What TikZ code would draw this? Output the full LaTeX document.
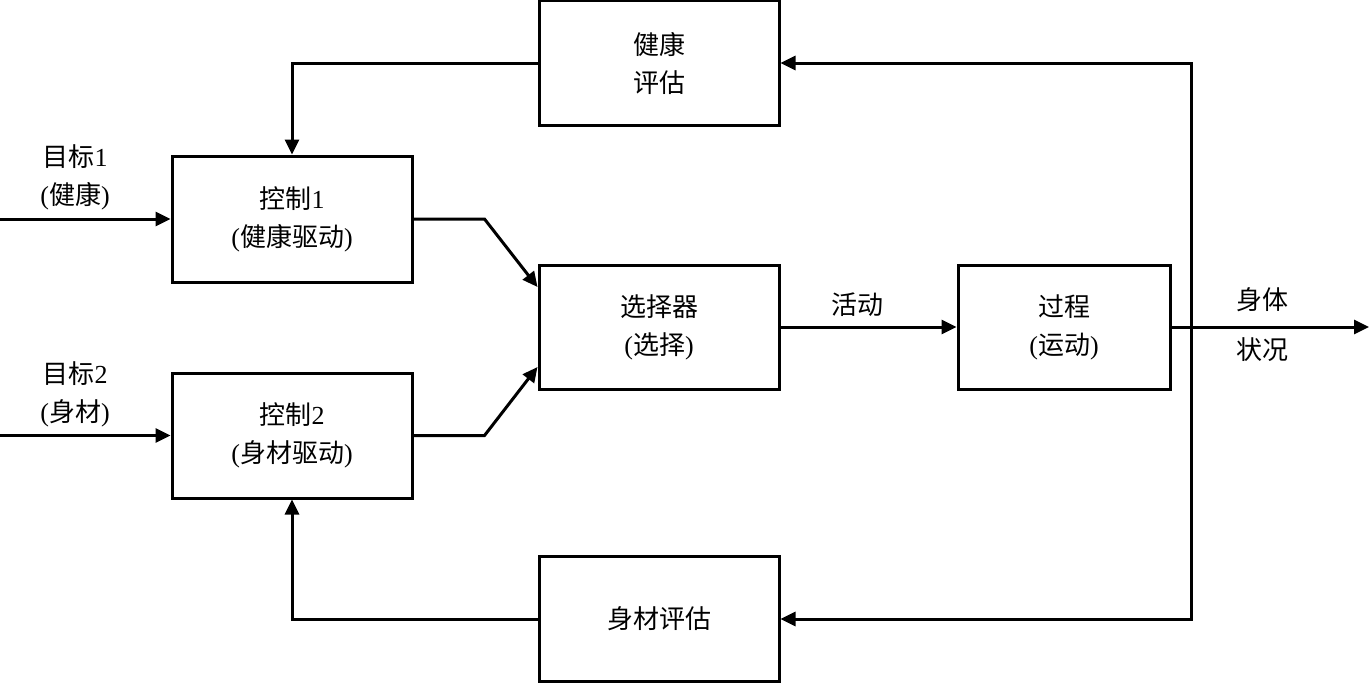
\documentclass[tikz,border=0pt]{standalone}
\usepackage{fontspec}
\setmainfont{Liberation Serif}
\newfontfamily\cjk{Noto Sans CJK SC}
\usetikzlibrary{arrows.meta}
\begin{document}
\begin{tikzpicture}[x=1pt,y=-1pt,
  box/.style={draw,line width=3pt,inner sep=0pt,align=center,font=\fontsize{26}{38}\selectfont},
  lbl/.style={inner sep=0pt,align=center,font=\fontsize{26}{38}\selectfont},
  conn/.style={line width=3pt,-{Triangle[length=15pt,width=14pt]}},
  plain/.style={line width=3pt}]
\useasboundingbox (0,0) rectangle (1369,683);
\fill[white] (0,0) rectangle (1369,683);
% boxes
\node[box,minimum width=240,minimum height=125] (he) at (659,63) {{\cjk 健康}\\{\cjk 评估}};
\node[box,minimum width=240,minimum height=126] (c1) at (292,219) {{\cjk 控制}1\\({\cjk 健康驱动})};
\node[box,minimum width=240,minimum height=125] (c2) at (292,435.5) {{\cjk 控制}2\\({\cjk 身材驱动})};
\node[box,minimum width=240,minimum height=124] (sel) at (659,327) {{\cjk 选择器}\\({\cjk 选择})};
\node[box,minimum width=212,minimum height=124] (pr) at (1064,327) {{\cjk 过程}\\({\cjk 运动})};
\node[box,minimum width=240,minimum height=125] (se) at (659,619) {{\cjk 身材评估}};
% labels
\node[lbl] (g1) at (75,177) {{\cjk 目标}1\\({\cjk 健康})};
\node[lbl] (g2) at (75,394) {{\cjk 目标}2\\({\cjk 身材})};
\node[lbl] (act) at (857,305) {\cjk 活动};
\node[lbl] (st1) at (1262,300) {\cjk 身体};
\node[lbl] (st2) at (1262,350) {\cjk 状况};
% coordinates
\coordinate (in1) at (0,219);
\coordinate (in2) at (0,435.5);
\coordinate (out) at (1369,327);
\coordinate (split) at (1191,327);
% connectors
\draw[conn] (in1) -- (c1.west);
\draw[conn] (in2) -- (c2.west);
\draw[conn] (c1.east) -- ([xshift=71pt]c1.east) -- ([yshift=40pt]sel.west);
\draw[conn] (c2.east) -- ([xshift=71pt]c2.east) -- ([yshift=-40pt]sel.west);
\draw[conn] (sel.east) -- (pr.west);
\draw[conn] (pr.east) -- (out);
\draw[conn] (split) |- (he.east);
\draw[conn] (split) |- (se.east);
\draw[conn] (he.west) -| (c1.north);
\draw[conn] (se.west) -| (c2.south);
\end{tikzpicture}
\end{document}
